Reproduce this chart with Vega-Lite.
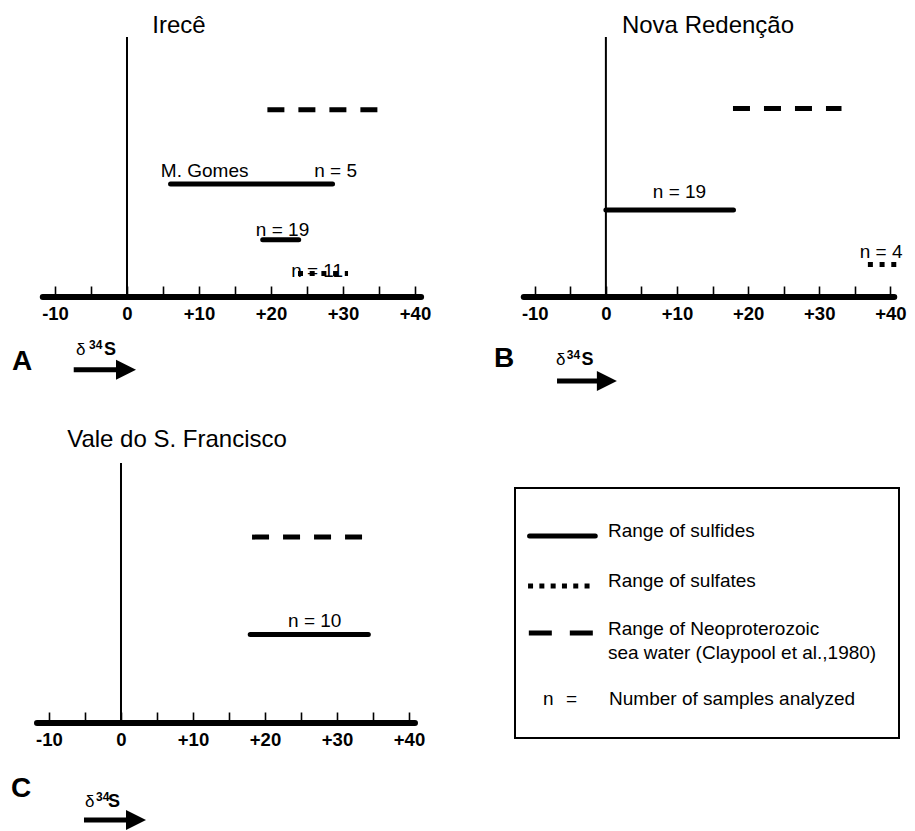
{
  "$schema": "https://vega.github.io/schema/vega-lite/v6.json",
  "background": "white",
  "padding": {"left": 10, "top": 14, "right": 0, "bottom": 0},
  "bounds": "flush",
  "columns": 2,
  "spacing": {"row": 166, "column": 89},
  "config": {
    "view": {"stroke": null},
    "font": "Liberation Sans",
    "text": {"font": "Liberation Sans", "color": "black"},
    "title": {"font": "Liberation Sans", "fontSize": 24, "fontWeight": "normal", "color": "black", "anchor": "middle", "frame": "group", "baseline": "alphabetic"},
    "axisX": {
      "values": [-10, -7.5, -5, -2.5, 0, 2.5, 5, 7.5, 10, 12.5, 15, 17.5, 20, 22.5, 25, 27.5, 30, 32.5, 35, 37.5, 40],
      "labelExpr": "datum.value % 10 === 0 ? (datum.value > 0 ? '+' + datum.value : '' + datum.value) : ''",
      "domain": false, "grid": false, "tickSize": -11, "tickWidth": 1.6, "tickColor": "black",
      "labelFont": "Liberation Sans", "labelFontWeight": "bold", "labelFontSize": 18.5, "labelColor": "black",
      "labelPadding": 18, "labelOverlap": false, "labelFlush": false, "title": null
    }
  },
  "datasets": {
    "A": [
      {"kind": "baseline", "x": -11.7, "x2": 40.85, "y": 0},
      {"kind": "zero", "x": 0, "y": 0, "y2": 10},
      {"kind": "seawater", "x": 19.5, "x2": 35, "y": 7.2},
      {"kind": "sulfides", "x": 6.05, "x2": 28.55, "y": 4.35},
      {"kind": "sulfides", "x": 18.85, "x2": 23.85, "y": 2.2},
      {"kind": "sulfates", "x": 23.75, "x2": 30.7, "y": 0.9},
      {"kind": "label", "x": 4.7, "y": 4.62, "text": "M. Gomes"},
      {"kind": "label", "x": 26, "y": 4.62, "text": "n = 5"},
      {"kind": "label", "x": 17.9, "y": 2.35, "text": "n = 19"},
      {"kind": "label", "x": 22.8, "y": 0.77, "text": "n = 11"},
      {"kind": "letter", "x": -14.58, "y": -2.8, "text": "A"},
      {"kind": "delta", "x": -7.08, "y": -2.23, "text": "δ"},
      {"kind": "iso", "x": -5.28, "y": -2.0, "text": "34"},
      {"kind": "element", "x": -3.19, "y": -2.23, "text": "S"},
      {"kind": "shaft", "x": -7.4, "x2": -0.5, "y": -2.8},
      {"kind": "head", "x": -0.14, "y": -2.8}
    ],
    "B": [
      {"kind": "baseline", "x": -11.55, "x2": 40.55, "y": 0},
      {"kind": "zero", "x": 0, "y": 0, "y2": 10},
      {"kind": "seawater", "x": 17.87, "x2": 33.13, "y": 7.25},
      {"kind": "sulfides", "x": 0, "x2": 17.94, "y": 3.35},
      {"kind": "sulfates", "x": 36.84, "x2": 40.96, "y": 1.25},
      {"kind": "label", "x": 6.6, "y": 3.81, "text": "n = 19"},
      {"kind": "label", "x": 35.7, "y": 1.5, "text": "n = 4"},
      {"kind": "letter", "x": -14.3, "y": -2.69, "text": "B"},
      {"kind": "delta", "x": -7.01, "y": -2.6, "text": "δ"},
      {"kind": "iso", "x": -5.5, "y": -2.38, "text": "34"},
      {"kind": "element", "x": -3.44, "y": -2.6, "text": "S"},
      {"kind": "shaft", "x": -6.87, "x2": -0.41, "y": -3.23},
      {"kind": "head", "x": 0.14, "y": -3.23}
    ],
    "C": [
      {"kind": "baseline", "x": -11.67, "x2": 40.83, "y": 0},
      {"kind": "zero", "x": 0, "y": 0, "y2": 10},
      {"kind": "seawater", "x": 18.2, "x2": 33.6, "y": 7.15},
      {"kind": "sulfides", "x": 17.95, "x2": 34.35, "y": 3.4},
      {"kind": "label", "x": 23.2, "y": 3.69, "text": "n = 10"},
      {"kind": "letter", "x": -13.89, "y": -2.85, "text": "C"},
      {"kind": "delta", "x": -5.0, "y": -3.23, "text": "δ"},
      {"kind": "iso", "x": -3.47, "y": -3.0, "text": "34"},
      {"kind": "element", "x": -1.81, "y": -3.23, "text": "S"},
      {"kind": "shaft", "x": -5.14, "x2": 1.5, "y": -3.73},
      {"kind": "head", "x": 2.08, "y": -3.73}
    ],
    "legend": [
      {"kind": "box", "x": 0, "x2": 10, "y": 0, "y2": 10},
      {"kind": "sulfides", "x": 0.38, "x2": 2.09, "y": 8.08},
      {"kind": "sulfates", "x": 0.34, "x2": 2.06, "y": 6.08},
      {"kind": "seawater", "x": 0.36, "x2": 2.03, "y": 4.2},
      {"kind": "label", "x": 2.42, "y": 8.04, "text": "Range of sulfides"},
      {"kind": "label", "x": 2.42, "y": 6.04, "text": "Range of sulfates"},
      {"kind": "label", "x": 2.42, "y": 4.12, "text": "Range of Neoproterozoic"},
      {"kind": "label", "x": 2.42, "y": 3.16, "text": "sea water (Claypool et al.,1980)"},
      {"kind": "label", "x": 0.73, "y": 1.32, "text": "n"},
      {"kind": "label", "x": 1.33, "y": 1.32, "text": "="},
      {"kind": "label", "x": 2.45, "y": 1.32, "text": "Number of samples analyzed"}
    ]
  },
  "concat": [
    {
      "width": 392, "height": 260,
      "title": {"text": "Irecê", "dx": -51, "offset": -2},
      "data": {"name": "A"},
      "encoding": {
        "x": {"field": "x", "type": "quantitative", "scale": {"domain": [-12.917, 41.53], "nice": false, "zero": false}},
        "y": {"field": "y", "type": "quantitative", "scale": {"domain": [0, 10], "nice": false, "zero": false}, "axis": null}
      },
      "layer": [
        {"transform": [{"filter": "datum.kind === 'baseline'"}], "mark": {"type": "rule", "strokeWidth": 6, "strokeCap": "round", "color": "black"}, "encoding": {"x2": {"field": "x2"}}},
        {"transform": [{"filter": "datum.kind === 'zero'"}], "mark": {"type": "rule", "strokeWidth": 2, "color": "black"}, "encoding": {"y2": {"field": "y2"}}},
        {"transform": [{"filter": "datum.kind === 'sulfides'"}], "mark": {"type": "rule", "strokeWidth": 5, "strokeCap": "round", "color": "black"}, "encoding": {"x2": {"field": "x2"}}},
        {"transform": [{"filter": "datum.kind === 'sulfates'"}], "mark": {"type": "rule", "strokeWidth": 5, "strokeCap": "butt", "strokeDash": [5, 6.7], "color": "black"}, "encoding": {"x2": {"field": "x2"}}},
        {"transform": [{"filter": "datum.kind === 'seawater'"}], "mark": {"type": "rule", "strokeWidth": 5, "strokeCap": "butt", "strokeDash": [17, 14], "color": "black"}, "encoding": {"x2": {"field": "x2"}}},
        {"transform": [{"filter": "datum.kind === 'shaft'"}], "mark": {"type": "rule", "strokeWidth": 5, "strokeCap": "butt", "color": "black"}, "encoding": {"x2": {"field": "x2"}}},
        {"transform": [{"filter": "datum.kind === 'head'"}], "mark": {"type": "point", "shape": "M-1,-1L1,0L-1,1Z", "size": 400, "filled": true, "color": "black", "opacity": 1, "strokeWidth": 0}},
        {"transform": [{"filter": "datum.kind === 'label'"}], "mark": {"type": "text", "fontSize": 19, "align": "left", "baseline": "alphabetic"}, "encoding": {"text": {"field": "text"}}},
        {"transform": [{"filter": "datum.kind === 'letter'"}], "mark": {"type": "text", "fontSize": 28, "fontWeight": "bold", "align": "center", "baseline": "alphabetic"}, "encoding": {"text": {"field": "text"}}},
        {"transform": [{"filter": "datum.kind === 'delta'"}], "mark": {"type": "text", "fontSize": 17, "align": "left", "baseline": "alphabetic"}, "encoding": {"text": {"field": "text"}}},
        {"transform": [{"filter": "datum.kind === 'iso'"}], "mark": {"type": "text", "fontSize": 12, "fontWeight": "bold", "align": "left", "baseline": "alphabetic"}, "encoding": {"text": {"field": "text"}}},
        {"transform": [{"filter": "datum.kind === 'element'"}], "mark": {"type": "text", "fontSize": 18, "fontWeight": "bold", "align": "left", "baseline": "alphabetic"}, "encoding": {"text": {"field": "text"}}}
      ]
    },
    {
      "width": 392, "height": 260,
      "title": {"text": "Nova Redenção", "dx": -3, "offset": -2},
      "data": {"name": "B"},
      "encoding": {
        "x": {"field": "x", "type": "quantitative", "scale": {"domain": [-12.78, 42.34], "nice": false, "zero": false}},
        "y": {"field": "y", "type": "quantitative", "scale": {"domain": [0, 10], "nice": false, "zero": false}, "axis": null}
      },
      "layer": [
        {"transform": [{"filter": "datum.kind === 'baseline'"}], "mark": {"type": "rule", "strokeWidth": 6, "strokeCap": "round", "color": "black"}, "encoding": {"x2": {"field": "x2"}}},
        {"transform": [{"filter": "datum.kind === 'zero'"}], "mark": {"type": "rule", "strokeWidth": 2, "color": "black"}, "encoding": {"y2": {"field": "y2"}}},
        {"transform": [{"filter": "datum.kind === 'sulfides'"}], "mark": {"type": "rule", "strokeWidth": 5, "strokeCap": "round", "color": "black"}, "encoding": {"x2": {"field": "x2"}}},
        {"transform": [{"filter": "datum.kind === 'sulfates'"}], "mark": {"type": "rule", "strokeWidth": 5, "strokeCap": "butt", "strokeDash": [5, 6.7], "color": "black"}, "encoding": {"x2": {"field": "x2"}}},
        {"transform": [{"filter": "datum.kind === 'seawater'"}], "mark": {"type": "rule", "strokeWidth": 5, "strokeCap": "butt", "strokeDash": [17, 14], "color": "black"}, "encoding": {"x2": {"field": "x2"}}},
        {"transform": [{"filter": "datum.kind === 'shaft'"}], "mark": {"type": "rule", "strokeWidth": 5, "strokeCap": "butt", "color": "black"}, "encoding": {"x2": {"field": "x2"}}},
        {"transform": [{"filter": "datum.kind === 'head'"}], "mark": {"type": "point", "shape": "M-1,-1L1,0L-1,1Z", "size": 400, "filled": true, "color": "black", "opacity": 1, "strokeWidth": 0}},
        {"transform": [{"filter": "datum.kind === 'label'"}], "mark": {"type": "text", "fontSize": 19, "align": "left", "baseline": "alphabetic"}, "encoding": {"text": {"field": "text"}}},
        {"transform": [{"filter": "datum.kind === 'letter'"}], "mark": {"type": "text", "fontSize": 28, "fontWeight": "bold", "align": "center", "baseline": "alphabetic"}, "encoding": {"text": {"field": "text"}}},
        {"transform": [{"filter": "datum.kind === 'delta'"}], "mark": {"type": "text", "fontSize": 17, "align": "left", "baseline": "alphabetic"}, "encoding": {"text": {"field": "text"}}},
        {"transform": [{"filter": "datum.kind === 'iso'"}], "mark": {"type": "text", "fontSize": 12, "fontWeight": "bold", "align": "left", "baseline": "alphabetic"}, "encoding": {"text": {"field": "text"}}},
        {"transform": [{"filter": "datum.kind === 'element'"}], "mark": {"type": "text", "fontSize": 18, "fontWeight": "bold", "align": "left", "baseline": "alphabetic"}, "encoding": {"text": {"field": "text"}}}
      ]
    },
    {
      "width": 392, "height": 260,
      "title": {"text": "Vale do S. Francisco", "dx": -53, "offset": 10},
      "data": {"name": "C"},
      "encoding": {
        "x": {"field": "x", "type": "quantitative", "scale": {"domain": [-12.083, 42.36], "nice": false, "zero": false}},
        "y": {"field": "y", "type": "quantitative", "scale": {"domain": [0, 10], "nice": false, "zero": false}, "axis": null}
      },
      "layer": [
        {"transform": [{"filter": "datum.kind === 'baseline'"}], "mark": {"type": "rule", "strokeWidth": 6, "strokeCap": "round", "color": "black"}, "encoding": {"x2": {"field": "x2"}}},
        {"transform": [{"filter": "datum.kind === 'zero'"}], "mark": {"type": "rule", "strokeWidth": 2, "color": "black"}, "encoding": {"y2": {"field": "y2"}}},
        {"transform": [{"filter": "datum.kind === 'sulfides'"}], "mark": {"type": "rule", "strokeWidth": 5, "strokeCap": "round", "color": "black"}, "encoding": {"x2": {"field": "x2"}}},
        {"transform": [{"filter": "datum.kind === 'seawater'"}], "mark": {"type": "rule", "strokeWidth": 5, "strokeCap": "butt", "strokeDash": [17, 14], "color": "black"}, "encoding": {"x2": {"field": "x2"}}},
        {"transform": [{"filter": "datum.kind === 'shaft'"}], "mark": {"type": "rule", "strokeWidth": 5, "strokeCap": "butt", "color": "black"}, "encoding": {"x2": {"field": "x2"}}},
        {"transform": [{"filter": "datum.kind === 'head'"}], "mark": {"type": "point", "shape": "M-1,-1L1,0L-1,1Z", "size": 400, "filled": true, "color": "black", "opacity": 1, "strokeWidth": 0}},
        {"transform": [{"filter": "datum.kind === 'label'"}], "mark": {"type": "text", "fontSize": 19, "align": "left", "baseline": "alphabetic"}, "encoding": {"text": {"field": "text"}}},
        {"transform": [{"filter": "datum.kind === 'letter'"}], "mark": {"type": "text", "fontSize": 28, "fontWeight": "bold", "align": "center", "baseline": "alphabetic"}, "encoding": {"text": {"field": "text"}}},
        {"transform": [{"filter": "datum.kind === 'delta'"}], "mark": {"type": "text", "fontSize": 17, "align": "left", "baseline": "alphabetic"}, "encoding": {"text": {"field": "text"}}},
        {"transform": [{"filter": "datum.kind === 'iso'"}], "mark": {"type": "text", "fontSize": 12, "fontWeight": "bold", "align": "left", "baseline": "alphabetic"}, "encoding": {"text": {"field": "text"}}},
        {"transform": [{"filter": "datum.kind === 'element'"}], "mark": {"type": "text", "fontSize": 18, "fontWeight": "bold", "align": "left", "baseline": "alphabetic"}, "encoding": {"text": {"field": "text"}}}
      ]
    },
    {
      "width": 384, "height": 275,
      "data": {"name": "legend"},
      "encoding": {
        "x": {"field": "x", "type": "quantitative", "scale": {"domain": [0, 10], "nice": false, "zero": false}, "axis": null},
        "y": {"field": "y", "type": "quantitative", "scale": {"domain": [0, 11], "nice": false, "zero": false}, "axis": null}
      },
      "layer": [
        {"transform": [{"filter": "datum.kind === 'box'"}], "mark": {"type": "rect", "fill": "transparent", "stroke": "black", "strokeWidth": 2}, "encoding": {"x2": {"field": "x2"}, "y2": {"field": "y2"}}},
        {"transform": [{"filter": "datum.kind === 'sulfides'"}], "mark": {"type": "rule", "strokeWidth": 5, "strokeCap": "round", "color": "black"}, "encoding": {"x2": {"field": "x2"}}},
        {"transform": [{"filter": "datum.kind === 'sulfates'"}], "mark": {"type": "rule", "strokeWidth": 5, "strokeCap": "butt", "strokeDash": [5, 6.3], "color": "black"}, "encoding": {"x2": {"field": "x2"}}},
        {"transform": [{"filter": "datum.kind === 'seawater'"}], "mark": {"type": "rule", "strokeWidth": 5, "strokeCap": "butt", "strokeDash": [23, 18], "color": "black"}, "encoding": {"x2": {"field": "x2"}}},
        {"transform": [{"filter": "datum.kind === 'label'"}], "mark": {"type": "text", "fontSize": 19, "align": "left", "baseline": "alphabetic"}, "encoding": {"text": {"field": "text"}}}
      ]
    }
  ]
}
